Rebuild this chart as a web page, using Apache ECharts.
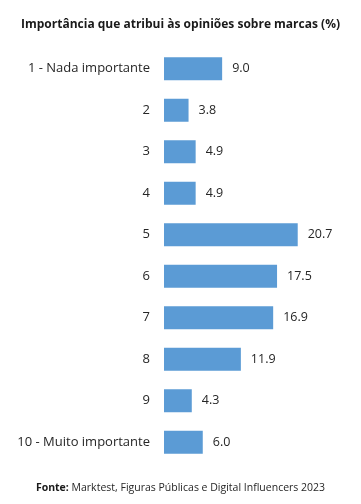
<!DOCTYPE html>
<html><head><meta charset="utf-8">
<script src="https://cdn.jsdelivr.net/npm/echarts@6/dist/echarts.min.js"></script>
<style>html,body{margin:0;padding:0;background:#fff}#c{width:361px;height:504px}</style>
</head><body><div id="c"></div>
<script>
var categories = ['1 - Nada importante','2','3','4','5','6','7','8','9','10 - Muito importante'];
var values = [9.0, 3.8, 4.9, 4.9, 20.7, 17.5, 16.9, 11.9, 4.3, 6.0];
var titleText = 'Importância que atribui às opiniões sobre marcas (%)';

var chart = echarts.init(document.getElementById('c'));
chart.setOption({
  animation: false,
  title: [{
    text: titleText, left: 'center', top: 14,
    textStyle: {fontFamily: 'Open Sans', fontSize: 12, fontWeight: 'bold', color: '#1a1a1a'}
  }, {
    text: '{b|Fonte:} Marktest, Figuras Públicas e Digital Influencers 2023',
    left: 'center', top: 478,
    textStyle: {fontFamily: 'Open Sans', fontSize: 10.5, fontWeight: 'normal', color: '#262626',
      rich: {b: {fontFamily: 'Open Sans', fontSize: 10.5, fontWeight: 'bold', color: '#1a1a1a'}}}
  }],
  grid: {left: 164, top: 48, width: 161.5, height: 415},
  xAxis: {type: 'value', min: 0, max: 25, show: false},
  yAxis: {
    type: 'category', data: categories, inverse: true,
    axisLine: {show: false}, axisTick: {show: false},
    axisLabel: {margin: 14, fontFamily: 'Open Sans', fontSize: 13, color: '#262626'}
  },
  series: [{
    type: 'bar', data: values, barWidth: 23,
    itemStyle: {color: '#5B9BD5'},
    label: {show: true, position: 'right', distance: 10, fontFamily: 'Open Sans', fontSize: 12.5, color: '#262626',
      formatter: function(p){ return p.value.toFixed(1); }}
  }]
});
</script></body></html>
